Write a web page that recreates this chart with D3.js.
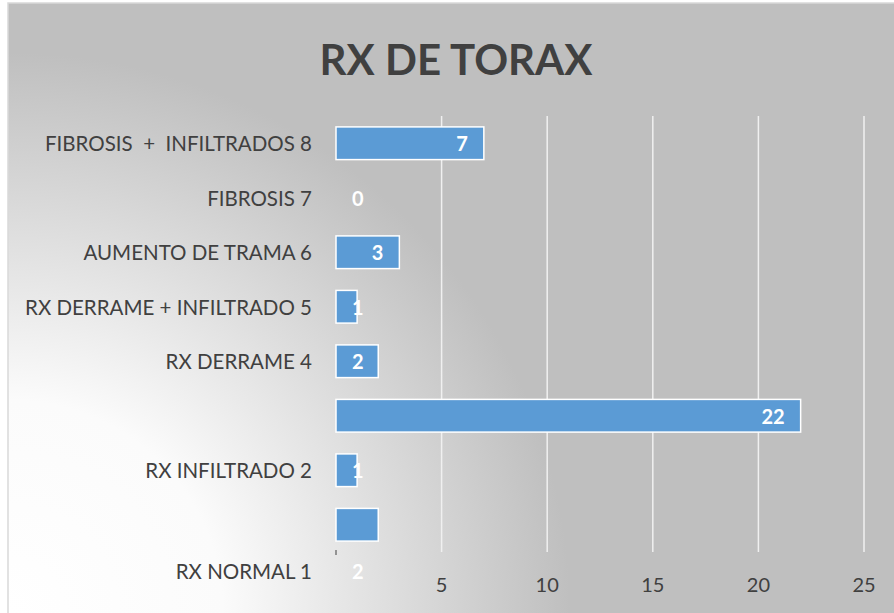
<!DOCTYPE html>
<html>
<head>
<meta charset="utf-8">
<script src="https://cdn.jsdelivr.net/npm/d3@7"></script>
<style>
  body { margin: 0; background: #fff; }
  text { font-family: Lato, "Open Sans", sans-serif; }
</style>
</head>
<body>
<div id="chart"></div>
<script>
// data, bottom to top as in the sheet
const categories = ["RX NORMAL 1", "RX INFILTRADO 2", "", "RX DERRAME 4",
  "RX DERRAME + INFILTRADO 5", "AUMENTO DE TRAMA 6", "FIBROSIS 7", "FIBROSIS  +  INFILTRADOS 8"];
const values = [2, 1, 22, 2, 1, 3, 0, 7];
const xTicks = [5, 10, 15, 20, 25];
const title = "RX DE TORAX";

var width = 894, height = 613;
var plot = {left: 336, right: 864, top: 116, bottom: 552};

var svg = d3.select("#chart").append("svg")
  .attr("width", width)
  .attr("height", height);

// background gradient (white from lower left corner)
var grad = svg.append("defs").append("radialGradient")
  .attr("id", "bg")
  .attr("gradientUnits", "userSpaceOnUse")
  .attr("cx", 10).attr("cy", 613).attr("r", 560);
grad.append("stop").attr("offset", 0).attr("stop-color", "#ffffff");
grad.append("stop").attr("offset", 0.38).attr("stop-color", "#fbfbfb");
grad.append("stop").attr("offset", 1).attr("stop-color", "#bfbfbf");

svg.append("rect")
  .attr("x", 8).attr("y", 3)
  .attr("width", width).attr("height", height)
  .attr("fill", "url(#bg)")
  .attr("stroke", "#d9d9d9")
  .attr("stroke-width", 1.5);

// scales
var x = d3.scaleLinear()
  .domain([0, 25])
  .range([plot.left, plot.right]);

var rows = categories.map(function(c, i) { return {name: c, value: values[i], idx: i}; });

var y = d3.scaleBand()
  .domain(rows.map(function(d) { return d.idx; }).reverse())
  .range([plot.top, plot.bottom])
  .paddingInner(0.4)
  .paddingOuter(0.2);

// gridlines
svg.append("g")
  .selectAll("line")
  .data(xTicks)
  .enter().append("line")
  .attr("x1", function(d) { return x(d); })
  .attr("x2", function(d) { return x(d); })
  .attr("y1", plot.top)
  .attr("y2", plot.bottom)
  .attr("stroke", "#f0f0f0")
  .attr("stroke-width", 1.5);

// little tick left over at zero
svg.append("line")
  .attr("x1", x(0)).attr("x2", x(0))
  .attr("y1", plot.bottom - 2).attr("y2", plot.bottom + 3)
  .attr("stroke", "#404040");

// x tick labels
svg.append("g")
  .selectAll("text")
  .data(xTicks)
  .enter().append("text")
  .attr("x", function(d) { return x(d); })
  .attr("y", 592)
  .attr("text-anchor", "middle")
  .attr("font-size", 20)
  .attr("fill", "#404040")
  .text(function(d) { return d; });

// bars
svg.append("g")
  .selectAll("rect")
  .data(rows.filter(function(d) { return d.value > 0; }))
  .enter().append("rect")
  .attr("x", x(0))
  .attr("y", function(d) { return y(d.idx); })
  .attr("width", function(d) { return x(d.value) - x(0); })
  .attr("height", y.bandwidth())
  .attr("fill", "#5b9bd5")
  .attr("stroke", "#ffffff")
  .attr("stroke-width", 1.5);

// the first category's labels sit lower than its bar in the original
function shift(d) { return d.idx === 0 ? 46 : 0; }

// category labels
svg.append("g")
  .selectAll("text")
  .data(rows)
  .enter().append("text")
  .attr("x", 312)
  .attr("y", function(d) { return y(d.idx) + y.bandwidth() / 2 + 8 + shift(d); })
  .attr("text-anchor", "end")
  .attr("font-size", 20.5)
  .attr("fill", "#404040")
  .style("white-space", "pre")
  .text(function(d) { return d.name; });

// value labels, inside end but never left of the bar start
svg.append("g")
  .selectAll("text")
  .data(rows)
  .enter().append("text")
  .attr("y", function(d) { return y(d.idx) + y.bandwidth() / 2 + 8 + shift(d); })
  .attr("font-size", 20)
  .attr("font-weight", "bold")
  .attr("fill", "#ffffff")
  .text(function(d) { return d.value; })
  .attr("x", function(d) {
    var w = this.getComputedTextLength();
    return Math.max(x(d.value) - 16 - w, x(0) + 16);
  });

// title
svg.append("text")
  .attr("x", 456)
  .attr("y", 75)
  .attr("text-anchor", "middle")
  .attr("font-size", 42)
  .attr("font-weight", "bold")
  .attr("fill", "#404040")
  .text(title);
</script>
</body>
</html>
